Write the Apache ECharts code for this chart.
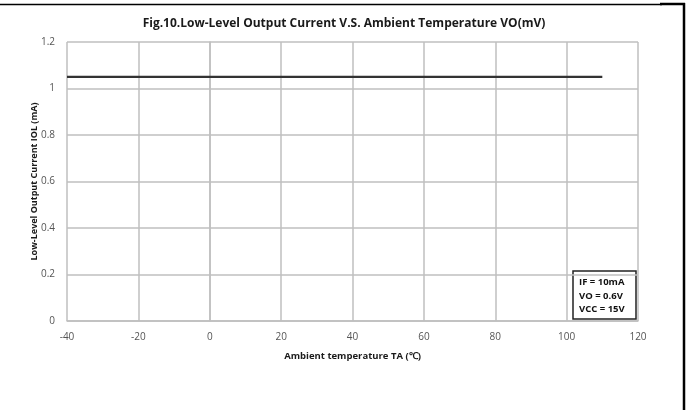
<!DOCTYPE html>
<html><head><meta charset="utf-8">
<script src="https://cdn.jsdelivr.net/npm/echarts@6/dist/echarts.min.js"></script>
<style>html,body{margin:0;padding:0;background:#fff}#c{width:688px;height:410px}</style>
</head><body><div id="c"></div>
<script>
var titleText = 'Fig.10.Low-Level Output Current V.S. Ambient Temperature VO(mV)';
var xName = 'Ambient temperature TA (\u2103)';
var yName = 'Low-Level Output Current IOL (mA)';
var temps = [-40, 110];
var currents = [1.05, 1.05];
var conditions = ['IF = 10mA', 'VO = 0.6V', 'VCC = 15V'];

var F = '"Open Sans", "Liberation Sans", sans-serif';
var chart = echarts.init(document.getElementById('c'));
chart.setOption({
  animation: false,
  backgroundColor: '#fff',
  title: {
    text: titleText, left: 'center', top: 13,
    textStyle: {fontFamily: F, fontSize: 12, fontWeight: 'bold', color: '#1a1a1a'}
  },
  grid: {left: 67, right: 50, top: 42, bottom: 89},
  xAxis: {
    type: 'value', min: -40, max: 120, interval: 20,
    name: xName, nameLocation: 'middle', nameGap: 30,
    nameTextStyle: {fontFamily: F, fontSize: 9.5, fontWeight: 'bold', color: '#1a1a1a'},
    axisLine: {show: true, lineStyle: {color: '#bfbfbf', width: 1.5}},
    axisTick: {show: false},
    axisLabel: {fontFamily: F, fontSize: 10, color: '#555', margin: 11},
    splitLine: {show: true, lineStyle: {color: '#bfbfbf', width: 1.5}}
  },
  yAxis: {
    type: 'value', min: 0, max: 1.2, interval: 0.2,
    name: yName, nameLocation: 'middle', nameGap: 28, nameMoveOverlap: false,
    nameTextStyle: {fontFamily: F, fontSize: 9, fontWeight: 'bold', color: '#1a1a1a'},
    axisLine: {show: true, lineStyle: {color: '#bfbfbf', width: 1.5}},
    axisTick: {show: false},
    axisLabel: {fontFamily: F, fontSize: 10, color: '#555', margin: 12},
    splitLine: {show: true, lineStyle: {color: '#bfbfbf', width: 1.5}}
  },
  series: [{
    type: 'line', symbol: 'none',
    data: temps.map(function (t, i) { return [t, currents[i]]; }),
    lineStyle: {color: '#333', width: 2.2}
  }],
  graphic: [
    {type: 'line', shape: {x1: 0, y1: 4.5, x2: 662, y2: 4.5}, style: {stroke: '#000', lineWidth: 1.5}},
    {type: 'line', shape: {x1: 660, y1: 4, x2: 685, y2: 4}, style: {stroke: '#000', lineWidth: 2.5}},
    {type: 'line', shape: {x1: 684, y1: 3, x2: 684, y2: 410}, style: {stroke: '#000', lineWidth: 2.5}},
    {type: 'rect', shape: {x: 573, y: 271, width: 63, height: 48},
      style: {fill: '#fff', stroke: '#222', lineWidth: 1.5}},
    {type: 'text', left: 579, top: 276,
      style: {text: conditions.join('\n'), fontFamily: F, fontSize: 9.5, fontWeight: 'bold',
        fill: '#111', lineHeight: 13.5}}
  ]
});
</script></body></html>
